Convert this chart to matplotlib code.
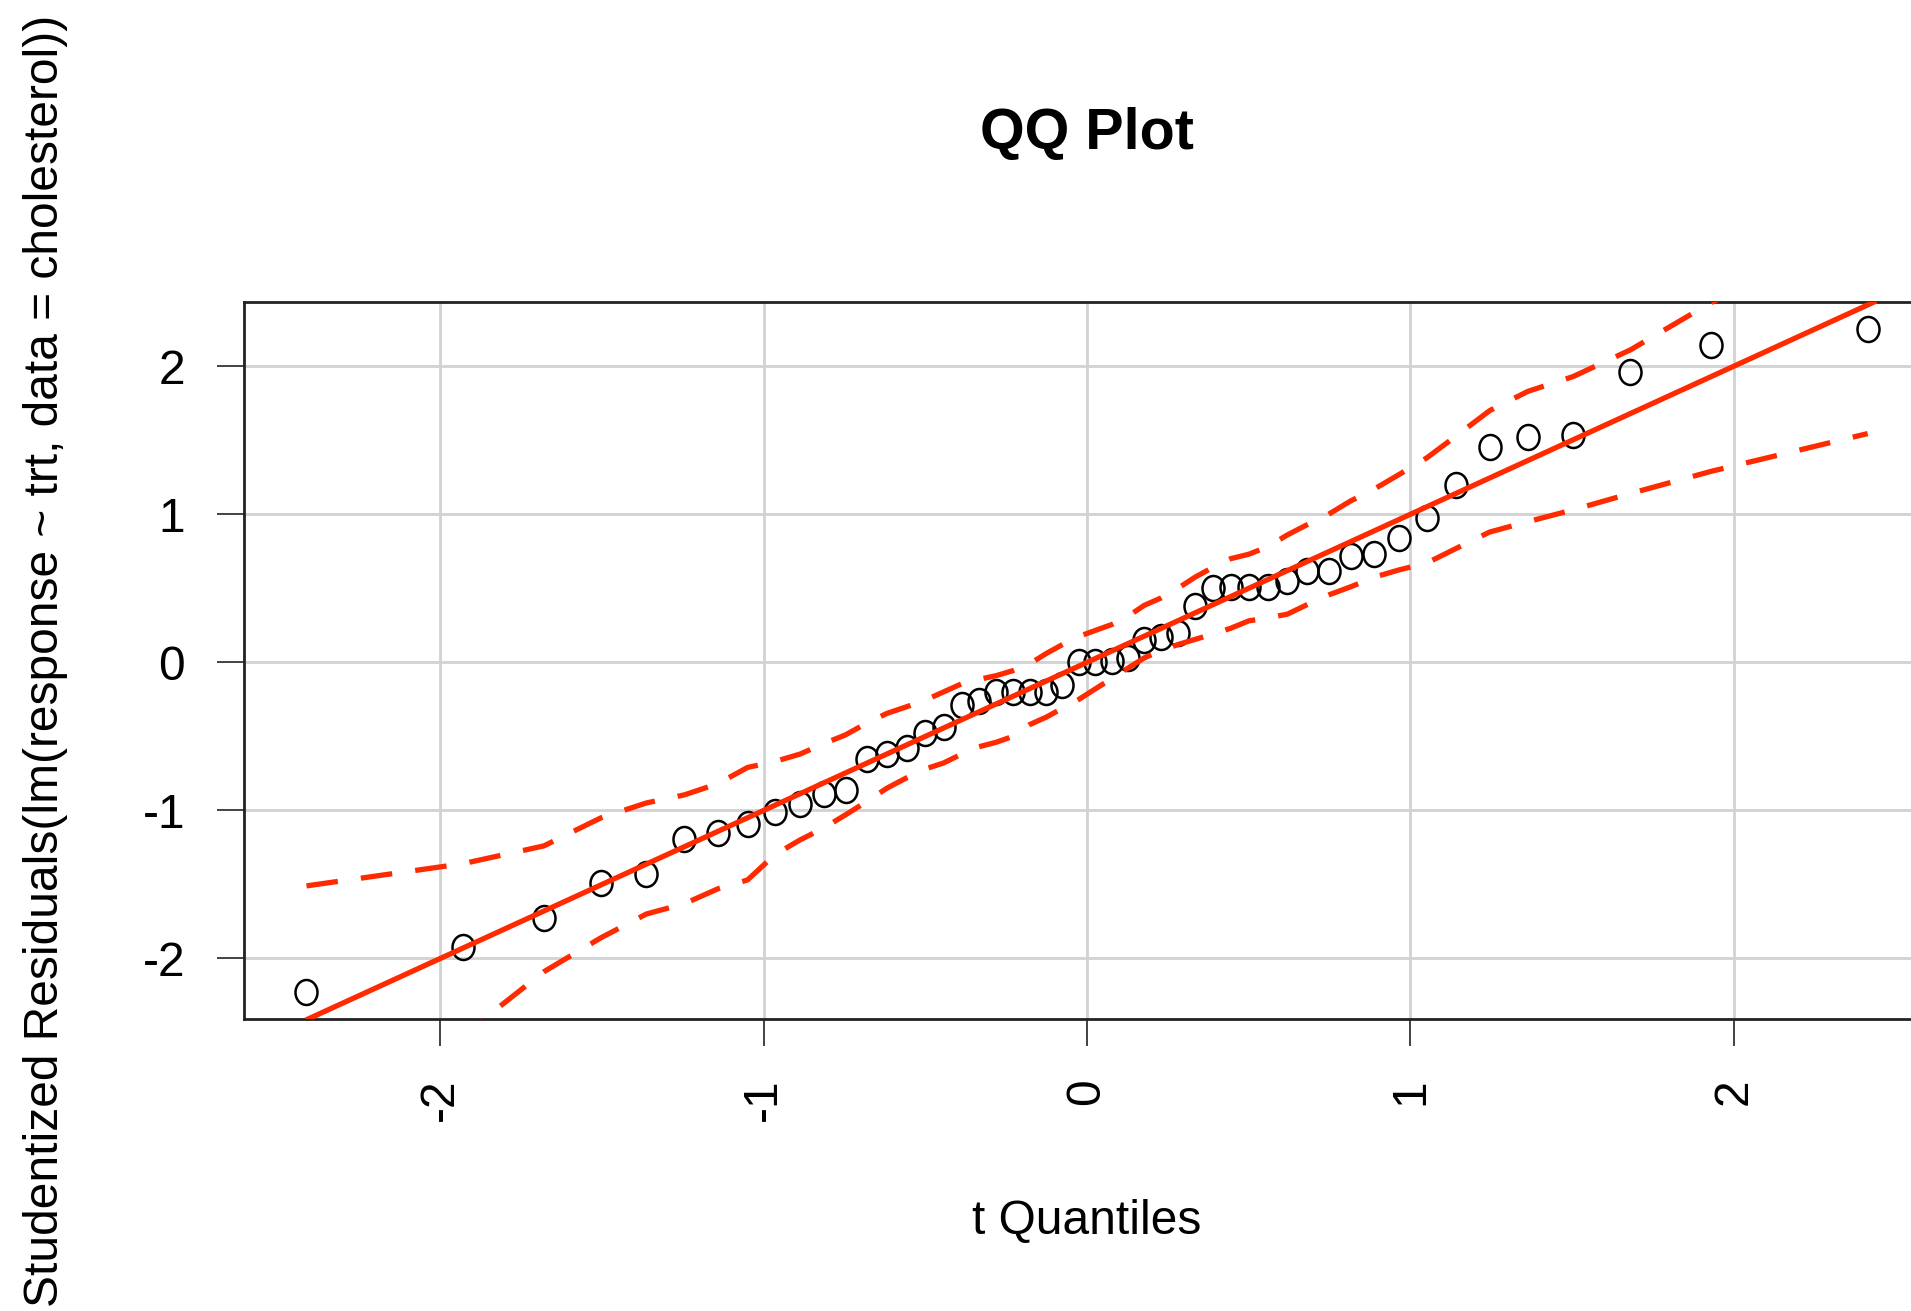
"""QQ plot of studentized residuals with a confidence envelope."""

import matplotlib

matplotlib.use("Agg")
import matplotlib.pyplot as plt
import numpy as np
from matplotlib import font_manager
from matplotlib.path import Path
from matplotlib.transforms import Affine2D

# ordered t quantiles (df = 44) on the x axis
t_quantiles = [
    -2.414, -1.930, -1.680, -1.503, -1.363, -1.245, -1.142, -1.050, -0.966, -0.888,
    -0.815, -0.747, -0.681, -0.619, -0.558, -0.500, -0.444, -0.388, -0.334, -0.281,
    -0.229, -0.177, -0.126, -0.076, -0.025, 0.025, 0.076, 0.126, 0.177, 0.229,
    0.281, 0.334, 0.388, 0.444, 0.500, 0.558, 0.619, 0.681, 0.747, 0.815,
    0.888, 0.966, 1.050, 1.142, 1.245, 1.363, 1.503, 1.680, 1.930, 2.414,
]

# sorted studentized residuals
residuals = [
    -2.23, -1.92, -1.73, -1.49, -1.43, -1.19, -1.15, -1.09, -1.01, -0.96,
    -0.89, -0.86, -0.65, -0.62, -0.58, -0.48, -0.44, -0.29, -0.26, -0.20,
    -0.20, -0.20, -0.20, -0.15, 0.00, 0.00, 0.01, 0.03, 0.15, 0.17,
    0.20, 0.38, 0.50, 0.51, 0.51, 0.51, 0.55, 0.62, 0.62, 0.715,
    0.733, 0.842, 0.978, 1.197, 1.457, 1.525, 1.536, 1.959, 2.14, 2.254,
]

# simulated pointwise envelope
upper_env = [
    -1.51, -1.36, -1.24, -1.05, -0.95, -0.895, -0.82, -0.71, -0.67, -0.62,
    -0.55, -0.49, -0.41, -0.345, -0.30, -0.255, -0.20, -0.145, -0.115, -0.09,
    -0.056, -0.01, 0.06, 0.12, 0.175, 0.215, 0.255, 0.31, 0.385, 0.435,
    0.50, 0.575, 0.64, 0.70, 0.73, 0.78, 0.86, 0.93, 1.00, 1.09,
    1.17, 1.27, 1.38, 1.53, 1.70, 1.83, 1.93, 2.11, 2.43, 2.90,
]
lower_env = [
    -3.00, -2.52, -2.09, -1.86, -1.70, -1.63, -1.53, -1.47, -1.30, -1.20,
    -1.12, -1.03, -0.94, -0.85, -0.78, -0.72, -0.68, -0.62, -0.57, -0.54,
    -0.50, -0.42, -0.37, -0.31, -0.25, -0.18, -0.11, -0.04, 0.03, 0.08,
    0.12, 0.155, 0.19, 0.23, 0.28, 0.30, 0.325, 0.39, 0.455, 0.51,
    0.575, 0.625, 0.67, 0.77, 0.88, 0.95, 1.03, 1.14, 1.29, 1.545,
]

# robust reference line
line_intercept = 0.0
line_slope = 1.0

x_ticks = [-2, -1, 0, 1, 2]
y_ticks = [-2, -1, 0, 1, 2]
title = "QQ Plot"
x_label = "t Quantiles"
y_label = "Studentized Residuals(lm(response ~ trt, data = cholesterol))"


def main():
    names = {f.name for f in font_manager.fontManager.ttflist}
    if "Liberation Sans Narrow" in names:
        family, k = "Liberation Sans Narrow", 1.0
    else:
        family, k = "Liberation Sans", 0.82
    plt.rcParams["font.family"] = [family, "DejaVu Sans"]
    fs = 42 * k

    red = "#ff2a00"
    lw = 3.8

    fig = plt.figure(figsize=(19.11, 13.11), dpi=100)
    ax = fig.add_axes([0.1277, 0.2227, 0.8823, 0.5469])

    x = np.array(t_quantiles)
    y = np.array(residuals)
    px = 0.04 * (x.max() - x.min())
    py = 0.04 * (y.max() - y.min())
    ax.set_xlim(x.min() - px, x.max() + px)
    ax.set_ylim(y.min() - py, y.max() + py)

    ax.set_xticks(x_ticks)
    ax.set_yticks(y_ticks)
    ax.set_xticklabels([str(v) for v in x_ticks])
    ax.set_yticklabels([str(v) for v in y_ticks])
    ax.grid(True, color="#d2d2d2", linewidth=2.0, zorder=0)
    ax.set_axisbelow(True)

    # slightly tall open circles (the source image is squeezed sideways)
    ellipse = Path.unit_circle().transformed(Affine2D().scale(0.88, 1.0))
    ax.plot(x, y, linestyle="none", marker=ellipse, markersize=18,
            markerfacecolor="none", markeredgecolor="black",
            markeredgewidth=1.8, zorder=3)

    ax.axline((0, line_intercept), slope=line_slope, color=red,
              linewidth=lw, zorder=4)
    ax.plot(x, upper_env, color=red, linewidth=lw, dashes=(6.0, 4.4), zorder=4)
    ax.plot(x, lower_env, color=red, linewidth=lw, dashes=(6.0, 4.4), zorder=4)

    for sp in ax.spines.values():
        sp.set_color("#222222")
        sp.set_linewidth(2.0)

    ax.tick_params(axis="both", direction="out", length=19.5, width=1.2,
                   color="#222222", labelsize=fs, pad=23)
    ax.tick_params(axis="x", labelrotation=90)

    ax.set_title(title, fontsize=fs * 1.2, fontweight="bold", y=1.223,
                 va="center")
    ax.set_xlabel(x_label, fontsize=fs, va="center")
    ax.xaxis.set_label_coords(0.5, -0.283)
    ax.set_ylabel(y_label, fontsize=fs, va="center")
    ax.yaxis.set_label_coords(-0.118, 0.5)

    fig.savefig("out.png", dpi=100)
    plt.close(fig)
    print(f"Saved: out.png ({family})")


if __name__ == "__main__":
    main()
